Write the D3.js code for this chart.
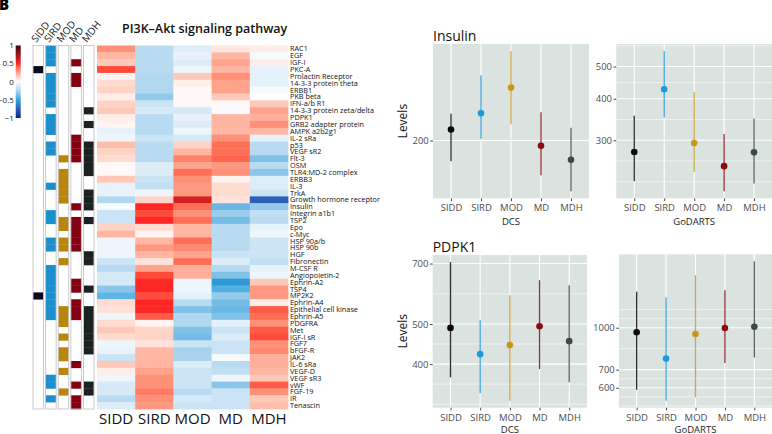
<!DOCTYPE html>
<html>
<head>
<meta charset="utf-8">
<script src="https://cdn.jsdelivr.net/npm/d3@7"></script>
<style>
  body { margin: 0; background: #fff; }
  svg { display: block; font-family: "Open Sans", sans-serif; }
</style>
</head>
<body>
<svg id="chart" width="772" height="434"></svg>
<script>
// ---- data ----
const groups = ["SIDD", "SIRD", "MOD", "MD", "MDH"];

const proteins = ["RAC1", "EGF", "IGF-I", "PKC-A", "Prolactin Receptor", "14-3-3 protein theta", "ERBB1",
    "PKB beta", "IFN-a/b R1", "14-3-3 protein zeta/delta", "PDPK1", "GRB2 adapter protein", "AMPK a2b2g1",
    "IL-2 sRa", "p53", "VEGF sR2", "Flt-3", "OSM", "TLR4:MD-2 complex", "ERBB3", "IL-3", "TrkA",
    "Growth hormone receptor", "Insulin", "Integrin a1b1", "TSP2", "Epo", "c-Myc", "HSP 90a/b", "HSP 90b",
    "HGF", "Fibronectin", "M-CSF R", "Angiopoietin-2", "Ephrin-A2", "TSP4", "MP2K2", "Ephrin-A4",
    "Epithelial cell kinase", "Ephrin-A5", "PDGFRA", "Met", "IGF-I sR", "FGF7", "bFGF-R", "JAK2",
    "IL-6 sRa", "VEGF-D", "VEGF sR3", "vWF", "FGF-19", "IR", "Tenascin"];

// correlation per cluster, one value per protein (same order as proteins)
const corrSIDD = [0.3, 0.2, 0.15, 0.45, 0.03, 0.1, 0.12, 0.05, 0.12, 0.15, 0.05, 0.03, -0.07, -0.05,
    0.18, 0.12, 0.1, 0.02, 0.02, 0.15, -0.07, -0.07, -0.22, -0.02, -0.15, -0.15, 0.12, 0.2,
    -0.05, -0.05, -0.05, -0.15, -0.2, -0.12, -0.12, -0.32, -0.42, 0.1, 0.08, -0.05, 0.1, 0.15, 0.1,
    -0.05, -0.07, -0.15, 0.15, 0.05, -0.05, -0.12, -0.12, -0.2, -0.1];
const corrSIRD = [-0.2, -0.2, -0.2, -0.2, -0.22, -0.22, -0.22, -0.3, -0.15, -0.12, -0.2, -0.2, -0.2, -0.15,
    -0.2, -0.2, -0.2, -0.1, -0.1, -0.15, -0.18, -0.05, 0.12, 0.5, 0.45, 0.5, 0.1, 0.03,
    0.2, 0.28, 0.2, 0.08, 0.25, 0.45, 0.5, 0.5, 0.45, 0.5, 0.5, 0.42, 0.03, 0.12, 0.12,
    0.08, 0.2, 0.2, 0.2, 0.25, 0.3, 0.3, 0.35, 0.3, 0.28];
const corrMOD = [-0.1, -0.07, -0.1, -0.05, 0.15, 0.05, 0.02, 0.02, 0.02, -0.12, -0.07, -0.1, -0.05, -0.12,
    0.12, 0.2, 0.33, 0.25, 0.38, 0.3, 0.28, 0.28, 0.6, 0.38, 0.3, 0.38, 0.2, 0.2,
    0.38, 0.32, 0.25, 0.38, 0.22, 0.22, -0.05, -0.05, -0.08, -0.2, -0.35, -0.22, -0.22, -0.35, -0.38,
    -0.15, -0.25, -0.25, -0.1, -0.15, -0.15, -0.15, -0.2, -0.12, -0.15];
const corrMD = [0.07, 0.2, 0.25, 0.2, 0.3, 0.25, 0.25, 0.15, 0.02, -0.02, 0.2, 0.2, 0.2, 0.3,
    0.38, 0.38, 0.4, 0.28, 0.3, 0.03, 0.1, 0.1, 0.08, -0.4, -0.28, -0.38, -0.2, -0.2,
    -0.2, -0.2, -0.15, -0.1, -0.2, -0.35, -0.55, -0.45, -0.3, -0.38, -0.4, -0.35, -0.08, -0.15, -0.1,
    -0.15, -0.15, -0.03, -0.2, -0.18, -0.05, -0.32, -0.15, -0.15, -0.15];
const corrMDH = [0.05, -0.02, 0.05, -0.07, -0.08, -0.08, -0.02, 0, 0.15, 0.25, 0.22, 0.3, 0.2, -0.07,
    -0.2, -0.2, -0.35, -0.2, -0.32, -0.1, -0.1, -0.15, -0.75, -0.3, -0.18, -0.2, -0.07, -0.05,
    -0.15, -0.15, -0.15, -0.18, -0.07, -0.05, 0.15, 0.28, 0.28, 0.05, 0.42, 0.38, 0.3, 0.42, 0.45,
    0.3, 0.32, 0.22, 0.22, 0.2, 0.15, 0.42, 0.3, 0.15, 0.18];

// significant rows per cluster (row index into proteins)
const sigSIDD = [3, 36];
const sigSIRD = [0, 1, 2, 4, 5, 6, 7, 8, 10, 11, 12, 14, 15, 20, 24, 25, 28, 29, 32, 33, 34, 35, 36, 37, 38, 39, 48, 49, 51];
const sigMOD = [16, 18, 19, 20, 21, 22, 25, 26, 28, 29, 31, 38, 39, 40, 42, 44, 45, 47, 50];
const sigMD = [2, 4, 5, 13, 14, 15, 16, 23, 25, 26, 27, 28, 29, 34, 35, 37, 38, 39, 46, 49, 51, 52];
const sigMDH = [9, 11, 14, 15, 16, 17, 18, 21, 22, 23, 25, 30, 31, 35, 38, 39, 40, 41, 42, 43, 44, 49, 50];

const legendTicks = [1, 0.5, 0, -0.5, -1];

// protein levels (mean and interval) per cluster
const insulinDcsMid = [206.4, 216.2, 232.7, 197.0, 189.3];
const insulinDcsLow = [188.5, 201.0, 209.5, 181.1, 173.0];
const insulinDcsHigh = [215.9, 240.9, 258.2, 216.8, 207.4];
const insulinDcsTicks = [200];

const insulinGodartsMid = [276.5, 427.1, 294.4, 250.8, 275.9];
const insulinGodartsLow = [225.9, 351.5, 240.6, 210.7, 222.3];
const insulinGodartsHigh = [355.4, 556.6, 419.2, 313.5, 349.0];
const insulinGodartsTicks = [300, 400, 500];

const pdpk1DcsMid = [489.3, 422.8, 444.6, 494.0, 454.5];
const pdpk1DcsLow = [371.5, 339.9, 326.2, 389.0, 361.4];
const pdpk1DcsHigh = [706.3, 510.8, 586.9, 638.0, 620.5];
const pdpk1DcsTicks = [400, 500, 700];

const pdpk1GodartsMid = [961.8, 769.1, 948.1, 997.5, 1008.5];
const pdpk1GodartsLow = [590.0, 537.5, 552.8, 741.5, 775.7];
const pdpk1GodartsHigh = [1356.5, 1293.5, 1562.4, 1376.2, 1759.2];
const pdpk1GodartsTicks = [600, 700, 1000];

// ---- styles ----
const groupColors = ["#0a0a0a", "#1c9ad6", "#c8961e", "#8b0a14", "#3b4a47"];
const annotColors = ["#0b0b1c", "#1a8fcc", "#b8860b", "#850012", "#1b2221"];
const panelBg = "#dbe3e1";

const svg = d3.select("#chart");
svg.append("rect").attr("width", 772).attr("height", 434).attr("fill", "#fff");

const corr = [corrSIDD, corrSIRD, corrMOD, corrMD, corrMDH];
const sig = [sigSIDD, sigSIRD, sigMOD, sigMD, sigMDH];

const color = d3.scaleLinear()
    .domain([-1, -0.5, 0, 0.5, 1])
    .range(["#0b1a8c", "#2aa7dd", "#ffffff", "#ff2626", "#3d0505"])
    .interpolate(d3.interpolateLab)
    .clamp(true);

// panel letter (cut at the edge)
svg.append("text")
    .attr("x", -1).attr("y", 10)
    .style("font-size", "15px").style("font-weight", 800)
    .text("B");

// ---- heatmap ----
const heatX = d3.scaleBand().domain(groups).range([97, 288]);
const heatY = d3.scaleBand().domain(proteins).range([45.5, 409]);

groups.forEach((g, gi) => {
    svg.append("g").selectAll("rect")
        .data(proteins)
        .enter().append("rect")
        .attr("x", heatX(g))
        .attr("y", d => heatY(d))
        .attr("width", heatX.bandwidth() + 0.4)
        .attr("height", heatY.bandwidth() + 0.4)
        .attr("fill", (d, i) => color(corr[gi][i]));
});

// row labels
svg.append("g").selectAll("text")
    .data(proteins)
    .enter().append("text")
    .attr("x", 290)
    .attr("y", d => heatY(d) + heatY.bandwidth() / 2)
    .attr("dy", "0.35em")
    .style("font-size", "7.3px")
    .style("fill", "#111")
    .text(d => d);

// column labels under heatmap
svg.append("g").selectAll("text")
    .data(groups)
    .enter().append("text")
    .attr("x", d => heatX(d) + heatX.bandwidth() / 2)
    .attr("y", 424)
    .attr("text-anchor", "middle")
    .style("font-size", "15px")
    .style("fill", "#111")
    .text(d => d);

svg.append("text")
    .attr("x", 122).attr("y", 33)
    .style("font-size", "12.5px")
    .style("font-weight", 600)
    .style("fill", "#111")
    .text("PI3K\u2013Akt signaling pathway");

// ---- annotation columns ----
const annX = d3.scaleBand().domain(groups).range([33, 94]).paddingInner(0.167);
groups.forEach((g, gi) => {
    const col = svg.append("g");
    col.append("rect")
        .attr("x", annX(g)).attr("y", heatY.range()[0])
        .attr("width", annX.bandwidth())
        .attr("height", heatY.range()[1] - heatY.range()[0])
        .attr("fill", "#fff");
    col.selectAll("rect.sig")
        .data(sig[gi])
        .enter().append("rect")
        .attr("class", "sig")
        .attr("x", annX(g))
        .attr("y", i => heatY(proteins[i]))
        .attr("width", annX.bandwidth())
        .attr("height", heatY.bandwidth() + 0.3)
        .attr("fill", annotColors[gi]);
    col.append("rect")
        .attr("x", annX(g)).attr("y", heatY.range()[0])
        .attr("width", annX.bandwidth())
        .attr("height", heatY.range()[1] - heatY.range()[0])
        .attr("fill", "none")
        .attr("stroke", "#c4c4c4")
        .attr("stroke-width", 0.9);
    col.append("text")
        .attr("transform", `translate(${annX(g) + annX.bandwidth() / 2 - 2},43) rotate(-52)`)
        .style("font-size", "10px")
        .style("fill", "#111")
        .text(g);
});

// ---- colour legend ----
const legY = d3.scaleLinear().domain([-1, 1]).range([118, 45.5]);
const grad = svg.append("defs").append("linearGradient")
    .attr("id", "legGrad")
    .attr("x1", "0%").attr("y1", "100%")
    .attr("x2", "0%").attr("y2", "0%");
d3.range(-1, 1.0001, 0.1).forEach(v => {
    grad.append("stop")
        .attr("offset", `${(v + 1) / 2 * 100}%`)
        .attr("stop-color", color(v));
});
svg.append("rect")
    .attr("x", 15.7).attr("y", legY(1))
    .attr("width", 5).attr("height", legY(-1) - legY(1))
    .attr("fill", "url(#legGrad)");
svg.append("g").selectAll("text")
    .data(legendTicks)
    .enter().append("text")
    .attr("x", 13.8)
    .attr("y", d => legY(d))
    .attr("dy", "0.35em")
    .attr("text-anchor", "end")
    .style("font-size", "8px")
    .style("fill", "#222")
    .text(d => d < 0 ? "\u2212" + Math.abs(d) : d);

// ---- level panels ----
function minorBreaks(majors, domain) {
    // ggplot2 regular_minor_breaks in log10 space
    let b = majors.map(Math.log10);
    if (b.length < 2) return [];
    const lo = Math.log10(domain[0]), hi = Math.log10(domain[1]);
    const bd = b[1] - b[0];
    if (lo < b[0]) b.unshift(b[0] - bd);
    if (hi > b[b.length - 1]) b.push(b[b.length - 1] + bd);
    const out = [];
    for (let i = 0; i < b.length - 1; i++) {
        out.push(b[i], (b[i] + b[i + 1]) / 2);
    }
    out.push(b[b.length - 1]);
    return out.map(v => Math.pow(10, v))
        .filter(v => v > domain[0] && v < domain[1])
        .filter(v => !majors.some(m => Math.abs(m - v) / m < 1e-6));
}

function drawPanel(o) {
    const g = svg.append("g");
    const x = d3.scalePoint().domain(groups).range([o.left, o.right]).padding(0.6);
    const all = o.low.concat(o.high);
    const lo = Math.log10(d3.min(all)), hi = Math.log10(d3.max(all));
    const pad = (hi - lo) * 0.05;
    const y = d3.scaleLog()
        .domain([Math.pow(10, lo - pad), Math.pow(10, hi + pad)])
        .range([o.bottom, o.top]);

    g.append("rect")
        .attr("x", o.left).attr("y", o.top)
        .attr("width", o.right - o.left).attr("height", o.bottom - o.top)
        .attr("fill", panelBg);

    g.selectAll("line.minor")
        .data(minorBreaks(o.ticks, y.domain()))
        .enter().append("line")
        .attr("x1", o.left).attr("x2", o.right)
        .attr("y1", d => y(d)).attr("y2", d => y(d))
        .attr("stroke", "#fff").attr("stroke-width", 0.55);
    g.selectAll("line.major")
        .data(o.ticks)
        .enter().append("line")
        .attr("x1", o.left).attr("x2", o.right)
        .attr("y1", d => y(d)).attr("y2", d => y(d))
        .attr("stroke", "#fff").attr("stroke-width", 1.1);
    g.selectAll("line.vgrid")
        .data(groups)
        .enter().append("line")
        .attr("x1", d => x(d)).attr("x2", d => x(d))
        .attr("y1", o.top).attr("y2", o.bottom)
        .attr("stroke", "#fff").attr("stroke-width", 1.1);

    // intervals and means
    g.selectAll("line.ci")
        .data(groups)
        .enter().append("line")
        .attr("x1", d => x(d)).attr("x2", d => x(d))
        .attr("y1", (d, i) => y(o.low[i]))
        .attr("y2", (d, i) => y(o.high[i]))
        .attr("stroke", (d, i) => groupColors[i])
        .attr("stroke-width", 1.3)
        .attr("stroke-opacity", 0.85);
    g.selectAll("circle")
        .data(groups)
        .enter().append("circle")
        .attr("cx", d => x(d))
        .attr("cy", (d, i) => y(o.mid[i]))
        .attr("r", 3.3)
        .attr("fill", (d, i) => groupColors[i]);

    // axes
    const yAxis = g.append("g")
        .attr("transform", `translate(${o.left},0)`)
        .call(d3.axisLeft(y).tickValues(o.ticks).tickFormat(d3.format("d")).tickSize(2.75).tickPadding(1.5));
    const xAxis = g.append("g")
        .attr("transform", `translate(0,${o.bottom})`)
        .call(d3.axisBottom(x).tickSize(2.75).tickPadding(3.5));
    [yAxis, xAxis].forEach(ax => {
        ax.select(".domain").remove();
        ax.selectAll("line").attr("stroke", "#333").attr("stroke-width", 0.9);
        ax.selectAll("text")
            .style("font-size", "9.5px")
            .style("font-family", "'Open Sans', sans-serif")
            .attr("fill", "#4d4d4d");
    });

    g.append("text")
        .attr("x", (o.left + o.right) / 2)
        .attr("y", Math.min(o.bottom + 27, 432.5))
        .attr("text-anchor", "middle")
        .style("font-size", "9.5px")
        .style("fill", "#222")
        .text(o.xTitle);

    if (o.title) {
        g.append("text")
            .attr("x", o.left).attr("y", o.top - 3.5)
            .style("font-size", "14px")
            .style("fill", "#111")
            .text(o.title);
    }
    if (o.yTitle) {
        g.append("text")
            .attr("transform", `translate(407,${(o.top + o.bottom) / 2}) rotate(-90)`)
            .attr("text-anchor", "middle")
            .style("font-size", "12px")
            .style("fill", "#111")
            .text(o.yTitle);
    }
}

drawPanel({
    left: 433, right: 589, top: 44, bottom: 198.3,
    mid: insulinDcsMid, low: insulinDcsLow, high: insulinDcsHigh, ticks: insulinDcsTicks,
    title: "Insulin", yTitle: "Levels", xTitle: "DCS"
});
drawPanel({
    left: 616.3, right: 772, top: 44, bottom: 198.3,
    mid: insulinGodartsMid, low: insulinGodartsLow, high: insulinGodartsHigh, ticks: insulinGodartsTicks,
    xTitle: "GoDARTS"
});
drawPanel({
    left: 432.7, right: 587, top: 255, bottom: 407.7,
    mid: pdpk1DcsMid, low: pdpk1DcsLow, high: pdpk1DcsHigh, ticks: pdpk1DcsTicks,
    title: "PDPK1", yTitle: "Levels", xTitle: "DCS"
});
drawPanel({
    left: 619, right: 772, top: 254.3, bottom: 407.7,
    mid: pdpk1GodartsMid, low: pdpk1GodartsLow, high: pdpk1GodartsHigh, ticks: pdpk1GodartsTicks,
    xTitle: "GoDARTS"
});
</script>
</body>
</html>
